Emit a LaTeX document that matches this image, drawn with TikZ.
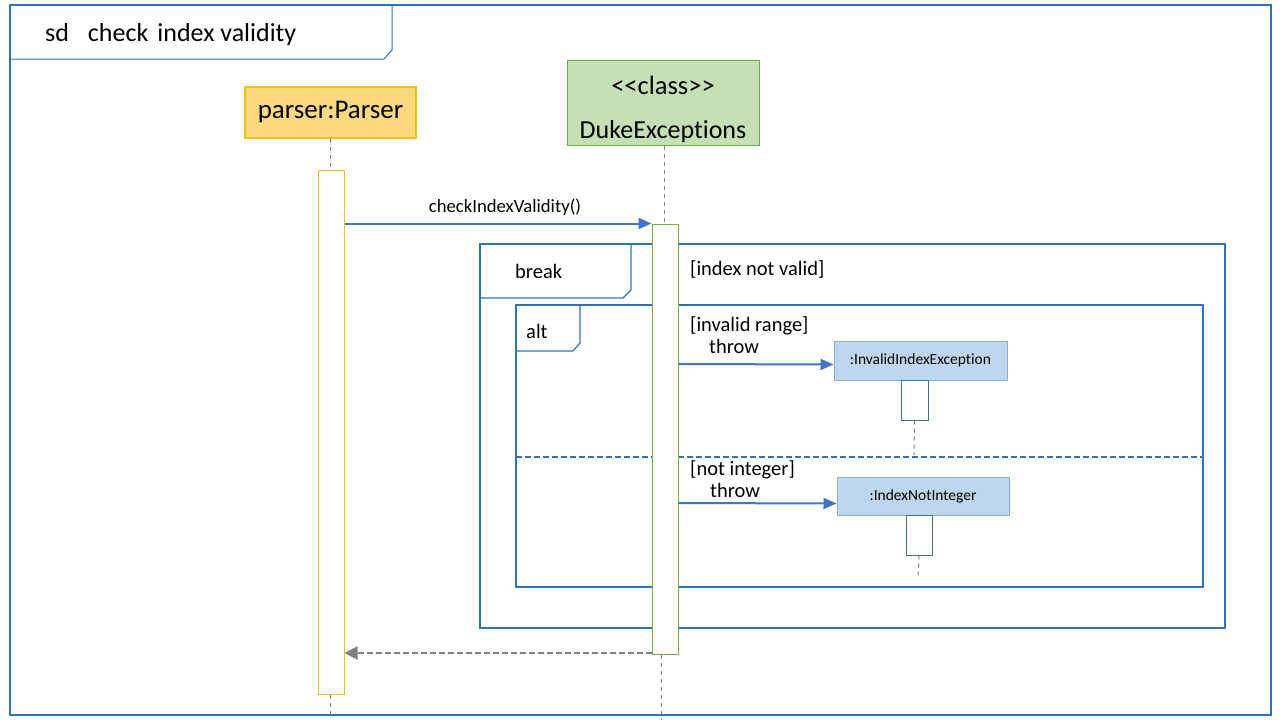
\documentclass[tikz,border=0pt]{standalone}
\usepackage{fontspec}
\setmainfont{Carlito}[Ligatures={NoCommon}]
\usetikzlibrary{arrows.meta}
\definecolor{frameblue}{RGB}{46,117,182}
\definecolor{arrowblue}{RGB}{68,114,196}
\definecolor{parserfill}{RGB}{255,217,128}
\definecolor{parserdraw}{RGB}{244,190,20}
\definecolor{dukefill}{RGB}{197,224,180}
\definecolor{dukedraw}{RGB}{112,173,71}
\definecolor{excfill}{RGB}{189,215,238}
\definecolor{excdraw}{RGB}{143,170,220}
\definecolor{lifepurple}{RGB}{140,110,180}
\definecolor{retgray}{RGB}{127,127,127}
\definecolor{actblue}{RGB}{65,113,156}
\begin{document}
\begin{tikzpicture}[x=1pt,y=-1pt,
  frame/.style={draw=frameblue,line width=2pt},
  tabline/.style={draw=frameblue,line width=1pt},
  headbox/.style={inner sep=0pt,line width=1.2pt,align=center},
  actbox/.style={draw,fill=white,inner sep=0pt,line width=1pt,minimum width=26pt},
  lifeline/.style={draw=lifepurple,line width=1pt,dash pattern=on 4pt off 4pt},
  msg/.style={draw=arrowblue,line width=2pt,-{Triangle[length=13pt,width=11pt]}},
  ret/.style={draw=retgray,line width=2pt,dash pattern=on 6pt off 3pt,-{Triangle[length=13pt,width=13pt]}},
  lbl/.style={inner sep=0pt,anchor=west,font=\fontsize{20.5pt}{24pt}\selectfont}
]
\useasboundingbox (0,0) rectangle (1280,720);
\fill[white] (0,0) rectangle (1280,720);

% outer frame and header
\draw[frame] (10,5) rectangle (1271,715);
\draw[tabline] (10,59) -- (384,59) -- (392,50) -- (392,5);
\node[inner sep=0pt,anchor=west,font=\fontsize{26pt}{30pt}\selectfont] (title) at (45,35) {sd\hspace{19pt}check\hspace{9pt}index validity};

% lifeline heads
\node[headbox,draw=parserdraw,fill=parserfill,minimum width=171pt,minimum height=51pt,font=\fontsize{27pt}{30pt}\selectfont] (parser) at (330.5,112.5) {parser:Parser};
\node[headbox,draw=dukedraw,fill=dukefill,minimum width=192pt,minimum height=85pt,line width=1pt] (duke) at (663,102.5) {};
\node[inner sep=0pt,font=\fontsize{26.5pt}{30pt}\selectfont] (dukecls) at (663,85) {<{}<class>{}>};
\node[inner sep=0pt,font=\fontsize{26pt}{30pt}\selectfont] (dukename) at (663,132) {DukeExceptions};

% combined fragments
\draw[frame] (480,244) rectangle (1225,628);
\draw[tabline,line width=1.2pt] (480,298) -- (623,298) -- (631,290) -- (631,244);
\node[lbl] (brk) at (515,271) {break};
\node[lbl] (brkg) at (690,269) {[index not valid]};

\draw[frame] (516,305) rectangle (1203,587);
\draw[tabline,line width=1.2pt] (516,351) -- (573,351) -- (580,343) -- (580,305);
\node[lbl] (alt) at (526,331) {alt};
\draw[draw=frameblue,line width=1.6pt,dash pattern=on 6pt off 3pt] (516,457) -- (1203,457);

\node[lbl] (g1) at (690,326) {[invalid range]};
\node[lbl] (th1) at (709,346) {throw};
\node[lbl] (g2) at (690,470) {[not integer]};
\node[lbl] (th2) at (710,490) {throw};

% activations
\node[actbox,draw=parserdraw,minimum height=524pt] (pact) at (331,432) {};
\node[actbox,draw=dukedraw,minimum height=430pt] (dact) at (665,439) {};

% lifelines
\coordinate (pend) at (330,715);
\coordinate (dend) at (661,720);
\draw[lifeline] (parser.south -| 330,0) -- (pact.north -| 330,0);
\draw[lifeline] (pact.south -| 330,0) -- (pend);
\draw[lifeline] (duke.south -| 664,0) -- (dact.north -| 664,0);
\draw[lifeline] (dact.south -| 661,0) -- (dend);

% exception objects
\node[headbox,draw=excdraw,fill=excfill,minimum width=173pt,minimum height=39pt,line width=1pt,font=\fontsize{15.5pt}{18pt}\selectfont] (inv) at (920.5,360.5) {:InvalidIndexException};
\node[actbox,draw=actblue,minimum width=27pt,minimum height=40pt] (iact) at (914.5,400) {};
\coordinate (iend) at (914,455);
\draw[lifeline] (iact.south) -- (iend);

\node[headbox,draw=excdraw,fill=excfill,minimum width=172pt,minimum height=38pt,line width=1pt,font=\fontsize{15.5pt}{18pt}\selectfont] (ini) at (923,496) {:IndexNotInteger};
\node[actbox,draw=actblue,minimum height=40pt] (nact) at (919,535) {};
\coordinate (nend) at (918,578);
\draw[lifeline] (nact.south) -- (nend);

% messages
\draw[msg] (pact.east |- dact.north) -- (dact.north west);
\node[inner sep=0pt,font=\fontsize{18.7pt}{22pt}\selectfont] (m1) at (505,207) {checkIndexValidity()};
\draw[msg] (dact.east |- 0,364) -- (inv.west |- 0,364.5);
\draw[msg] (dact.east |- 0,503) -- (ini.west |- 0,503.5);
\draw[ret] (dact.south west |- 0,653) -- (pact.east |- 0,653);
\end{tikzpicture}
\end{document}
